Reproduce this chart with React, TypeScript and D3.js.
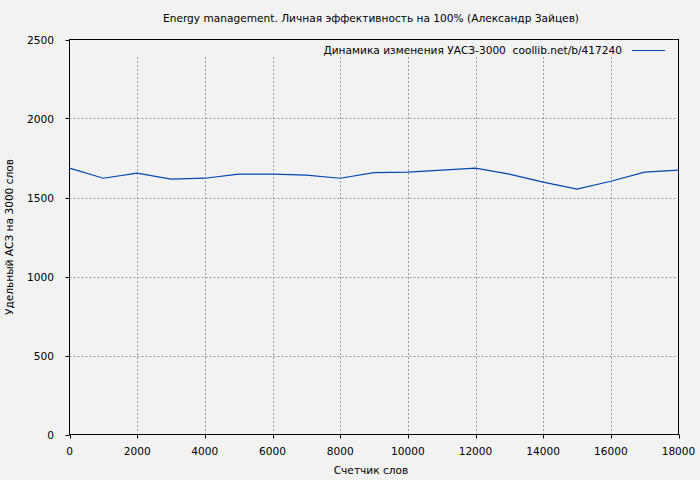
import React, { useEffect, useRef } from 'react';
import * as d3 from 'd3';

// word counter (x) and specific value per 3000 words (y)
const wordCounts = [0, 1000, 2000, 3000, 4000, 5000, 6000, 7000, 8000, 9000, 10000, 11000, 12000, 13000, 14000, 15000, 16000, 17000, 18000];
const values = [1686, 1622, 1654, 1616, 1622, 1648, 1648, 1641, 1622, 1658, 1660, 1673, 1686, 1648, 1597, 1553, 1603, 1660, 1673];

const xTicks = [0, 2000, 4000, 6000, 8000, 10000, 12000, 14000, 16000, 18000];
const yTicks = [0, 500, 1000, 1500, 2000, 2500];

const title = 'Energy management. Личная эффективность на 100% (Александр Зайцев)';
const legendLabel = 'Динамика изменения УАСЗ-3000  coollib.net/b/417240';
const xTitle = 'Счетчик слов';
const yTitle = 'Удельный АСЗ на 3000 слов';

const W = 700;
const H = 480;
const FONT = '"DejaVu Sans", Verdana, sans-serif';
const FS = 10.6;

const App: React.FC = () => {
  const svgRef = useRef<SVGSVGElement>(null);

  useEffect(() => {
    if (!svgRef.current) return;
    const svg = d3.select(svgRef.current);
    svg.selectAll('*').remove();

    const left = 69.5;
    const right = 678.5;
    const top = 39.5;
    const bottom = 434.5;

    const x = d3.scaleLinear().domain([0, 18000]).range([left, right]);
    const y = d3.scaleLinear().domain([0, 2500]).range([bottom, top]);

    svg.append('rect').attr('width', W).attr('height', H).attr('fill', '#f2f2f2');

    // grid
    const grid = svg.append('g')
      .attr('stroke', '#999')
      .attr('stroke-width', 1)
      .attr('stroke-dasharray', '2,2');

    grid.selectAll('.vg')
      .data(xTicks.filter(t => t > 0 && t < 18000))
      .enter()
      .append('line')
      .attr('x1', d => Math.round(x(d)) + 0.5)
      .attr('x2', d => Math.round(x(d)) + 0.5)
      .attr('y1', 57)
      .attr('y2', bottom);

    grid.selectAll('.hg')
      .data(yTicks.filter(t => t > 0 && t < 2500))
      .enter()
      .append('line')
      .attr('x1', left)
      .attr('x2', right)
      .attr('y1', d => Math.round(y(d)) + 0.5)
      .attr('y2', d => Math.round(y(d)) + 0.5);

    // frame
    svg.append('rect')
      .attr('x', left)
      .attr('y', top)
      .attr('width', right - left)
      .attr('height', bottom - top)
      .attr('fill', 'none')
      .attr('stroke', '#000')
      .attr('stroke-width', 1);

    // ticks
    svg.append('g').selectAll('line')
      .data(yTicks)
      .enter()
      .append('line')
      .attr('x1', left - 4)
      .attr('x2', left)
      .attr('y1', d => Math.round(y(d)) + 0.5)
      .attr('y2', d => Math.round(y(d)) + 0.5)
      .attr('stroke', '#000');

    svg.append('g').selectAll('line')
      .data(xTicks)
      .enter()
      .append('line')
      .attr('x1', d => Math.round(x(d)) + 0.5)
      .attr('x2', d => Math.round(x(d)) + 0.5)
      .attr('y1', bottom)
      .attr('y2', bottom + 4)
      .attr('stroke', '#000');

    // tick labels
    svg.append('g').selectAll('text')
      .data(yTicks)
      .enter()
      .append('text')
      .attr('x', 54)
      .attr('y', d => y(d) + 4)
      .attr('text-anchor', 'end')
      .attr('font-family', FONT)
      .attr('font-size', FS)
      .attr('fill', '#000')
      .text(d => String(d));

    svg.append('g').selectAll('text')
      .data(xTicks)
      .enter()
      .append('text')
      .attr('x', d => x(d))
      .attr('y', 455)
      .attr('text-anchor', 'middle')
      .attr('font-family', FONT)
      .attr('font-size', FS)
      .attr('fill', '#000')
      .text(d => String(d));

    // data line
    const line = d3.line<number>()
      .x((_, i) => x(wordCounts[i]))
      .y(d => y(d));

    svg.append('path')
      .datum(values)
      .attr('d', line)
      .attr('fill', 'none')
      .attr('stroke', '#0047b3')
      .attr('stroke-width', 1.2);

    // title
    svg.append('text')
      .attr('x', 371)
      .attr('y', 22)
      .attr('text-anchor', 'middle')
      .attr('font-family', FONT)
      .attr('font-size', FS)
      .attr('fill', '#000')
      .text(title);

    // legend
    svg.append('text')
      .attr('x', 622)
      .attr('y', 54)
      .attr('text-anchor', 'end')
      .attr('font-family', FONT)
      .attr('font-size', FS)
      .attr('fill', '#000')
      .style('white-space', 'pre')
      .text(legendLabel);

    svg.append('line')
      .attr('x1', 632)
      .attr('x2', 665)
      .attr('y1', 50.5)
      .attr('y2', 50.5)
      .attr('stroke', '#0047b3')
      .attr('stroke-width', 1.2);

    // axis titles
    svg.append('text')
      .attr('x', 371)
      .attr('y', 474)
      .attr('text-anchor', 'middle')
      .attr('font-family', FONT)
      .attr('font-size', FS)
      .attr('fill', '#000')
      .text(xTitle);

    svg.append('text')
      .attr('transform', `translate(13,${(top + bottom) / 2}) rotate(-90)`)
      .attr('text-anchor', 'middle')
      .attr('font-family', FONT)
      .attr('font-size', FS)
      .attr('fill', '#000')
      .text(yTitle);
  }, []);

  return (
    <svg
      ref={svgRef}
      width={W}
      height={H}
      style={{ position: 'absolute', left: 0, top: 0, display: 'block' }}
    />
  );
};

export default App;
